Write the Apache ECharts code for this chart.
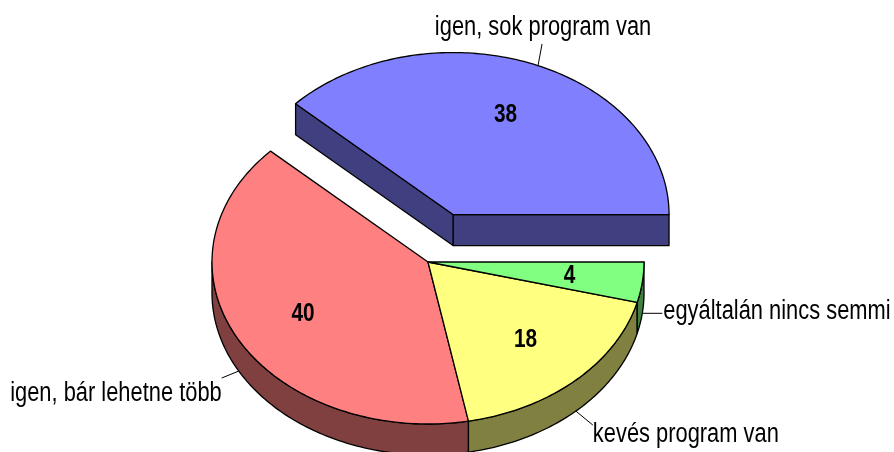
<!DOCTYPE html>
<html><head><meta charset="utf-8">
<script src="https://cdn.jsdelivr.net/npm/echarts/dist/echarts.min.js"></script>
<style>html,body{margin:0;padding:0;background:#fff}#c{width:894px;height:452px}</style>
</head><body><div id="c"></div>
<script>
// ---- data ----
const categories = ['igen, sok program van', 'igen, bár lehetne több', 'kevés program van', 'egyáltalán nincs semmi'];
const values = [38, 40, 18, 4];
const exploded = [true, false, false, false];

// ---- styles / layout ----
const topColors = ['#8080FF', '#FF8080', '#FFFF80', '#80FF80'];
const sideColors = ['#404080', '#804040', '#808040', '#408040'];
const L = { cx: 428, cy: 262, rx: 216, ry: 162, depth: 31, explode: 0.315, labelR: 0.66, startAngle: 0 };
const leaderOffset = [[9.5, -51], [-17, 7], [17, 14], [20, 0]];
const labelOffset = [[1, -16.5, 'center'], [0, 15.5, 'right'], [0, 9.5, 'left'], [1, -1.5, 'left']];
const FONT = 'Liberation Sans, Arial, sans-serif';

const total = values.reduce((a, b) => a + b, 0);
const starts = []; let acc = 0; values.forEach(v => { starts.push(acc); acc += v; });
const ang = f => L.startAngle * Math.PI / 180 + f * 2 * Math.PI;
const pt = (c, a, dz, r) => { r = r == null ? 1 : r; return [c[0] + L.rx * r * Math.cos(a), c[1] - L.ry * r * Math.sin(a) + (dz || 0)]; };
function arc(c, a0, a1, dz) {
  const n = Math.max(2, Math.ceil(Math.abs(a1 - a0) / (Math.PI / 180)));
  const out = [];
  for (let k = 0; k <= n; k++) out.push(pt(c, a0 + (a1 - a0) * k / n, dz));
  return out;
}
const edge = { stroke: '#000', lineWidth: 1.3, lineJoin: 'round' };

function renderItem(params, api) {
  const i = params.dataIndex;
  const v = api.value(0);
  const a0 = ang(starts[i] / total), a1 = ang((starts[i] + v) / total), am = (a0 + a1) / 2;
  const off = exploded[i] ? L.explode : 0;
  const c = [L.cx + L.rx * off * Math.cos(am), L.cy - L.ry * off * Math.sin(am)];
  const d = L.depth;
  const ch = [];
  // leader line
  const att = pt(c, am, d);
  const lo = leaderOffset[i];
  const le = [att[0] + lo[0], att[1] + lo[1]];
  ch.push({ type: 'line', z2: 0, shape: { x1: att[0], y1: att[1], x2: le[0], y2: le[1] }, style: { stroke: '#000', lineWidth: 1 } });
  // cut faces (only where a gap exists)
  const n = values.length;
  const prevExp = exploded[(i - 1 + n) % n], nextExp = exploded[(i + 1) % n];
  if ((exploded[i] || prevExp) && Math.cos(a0) > 0) {
    const p = pt(c, a0, 0);
    ch.push({ type: 'polygon', z2: 1, shape: { points: [c, p, [p[0], p[1] + d], [c[0], c[1] + d]] }, style: Object.assign({ fill: sideColors[i] }, edge) });
  }
  if ((exploded[i] || nextExp) && Math.cos(a1) < 0) {
    const p = pt(c, a1, 0);
    ch.push({ type: 'polygon', z2: 1, shape: { points: [c, p, [p[0], p[1] + d], [c[0], c[1] + d]] }, style: Object.assign({ fill: sideColors[i] }, edge) });
  }
  // outer wall (front half)
  [[Math.PI, 2 * Math.PI], [3 * Math.PI, 4 * Math.PI]].forEach(([s, e]) => {
    const lo2 = Math.max(a0, s), hi2 = Math.min(a1, e);
    if (hi2 > lo2) {
      const pts = arc(c, lo2, hi2, 0).concat(arc(c, hi2, lo2, d));
      ch.push({ type: 'polygon', z2: 2, shape: { points: pts }, style: Object.assign({ fill: sideColors[i] }, edge) });
    }
  });
  // top face
  const topPts = [c].concat(arc(c, a0, a1, 0));
  ch.push({ type: 'polygon', z2: 3, shape: { points: topPts }, style: Object.assign({ fill: topColors[i] }, edge) });
  // value label
  const lp = pt(c, am, 0, L.labelR);
  ch.push({ type: 'text', z2: 5, x: lp[0], y: lp[1], scaleX: 0.8,
    style: { text: String(v), x: 0, y: 0, align: 'center', verticalAlign: 'middle', fill: '#000', fontSize: 26, fontWeight: 'bold', fontFamily: FONT } });
  // category label
  const lb = labelOffset[i];
  ch.push({ type: 'text', z2: 5, x: le[0] + lb[0], y: le[1] + lb[1], scaleX: 0.81,
    style: { text: categories[i], x: 0, y: 0, align: lb[2], verticalAlign: 'middle', fill: '#000', fontSize: 27, fontFamily: FONT } });
  return { type: 'group', children: ch };
}

const chart = echarts.init(document.getElementById('c'), null, { renderer: 'canvas' });
chart.setOption({
  backgroundColor: '#fff',
  animation: false,
  series: [{
    type: 'custom',
    coordinateSystem: 'none',
    silent: true,
    renderItem: renderItem,
    data: values.map((v, i) => ({ name: categories[i], value: [v] }))
  }]
});
</script>
</body></html>
